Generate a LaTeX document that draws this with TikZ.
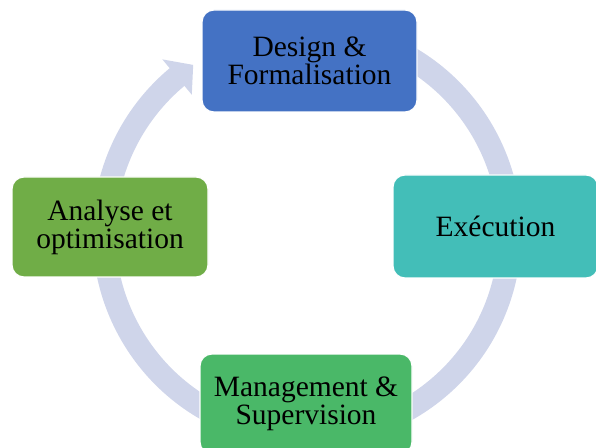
\documentclass[tikz,border=0pt]{standalone}
\usepackage{fontspec}
\setmainfont{Liberation Serif}
\definecolor{bandcol}{HTML}{CFD5EA}
\definecolor{designcol}{HTML}{4472C4}
\definecolor{execcol}{HTML}{43BEB8}
\definecolor{anacol}{HTML}{70AD47}
\definecolor{mgmtcol}{HTML}{4AB868}
\begin{document}
\begin{tikzpicture}[x=1pt,y=1pt,
  box/.style={rounded corners=12pt, draw=white, line width=1.2pt, inner sep=0pt,
    align=center, font=\fontsize{29.5}{28}\selectfont},
  band/.style={draw=bandcol, line width=23pt}]
\useasboundingbox (0,0) rectangle (596,447);
\coordinate (c) at (307,214);
% continuous cycle arrow
\draw[band] (c) ++(75:203) arc[start angle=75, end angle=-231, radius=203];
\fill[bandcol, shift={(c)}] (129.8:180) -- (124.1:203) -- (129.8:226) -- cycle;
% boxes
\node[box, fill=designcol, minimum width=215pt, minimum height=102pt] (design) at (309.5,386) {Design \&\\Formalisation};
\node[box, fill=execcol, minimum width=205pt, minimum height=103pt] (exec) at (495.5,220.5) {Exécution};
\node[box, fill=mgmtcol, minimum width=212pt, minimum height=100pt] (mgmt) at (306,43) {Management \&\\Supervision};
\node[box, fill=anacol, minimum width=196pt, minimum height=100pt] (ana) at (110,220) {Analyse et\\optimisation};
\end{tikzpicture}
\end{document}
